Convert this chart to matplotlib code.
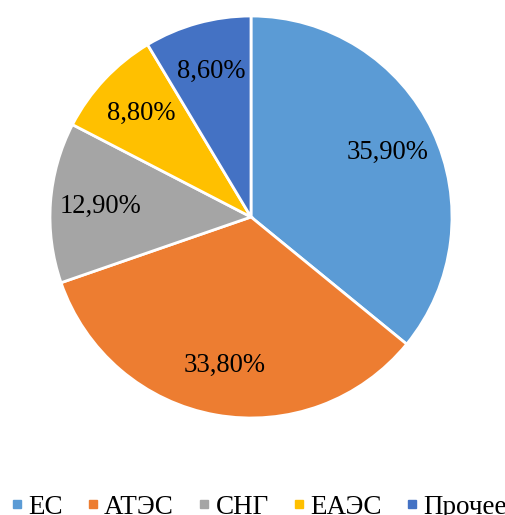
import matplotlib.pyplot as plt
from matplotlib.lines import Line2D

# regions and shares, %
regions = ['ЕС', 'АТЭС', 'СНГ', 'ЕАЭС', 'Прочее']
shares = [35.9, 33.8, 12.9, 8.8, 8.6]
colors = ['#5B9BD5', '#ED7D31', '#A5A5A5', '#FFC000', '#4472C4']

plt.rcParams['font.family'] = ['Liberation Serif', 'DejaVu Serif']

fig = plt.figure(figsize=(5.05, 5.15), dpi=100)
# pie centre ~ (251, 216) px, radius ~ 201 px
ax = fig.add_axes([50/505, 97/515, 402/505, 402/515])

def fmt(p):
    return ('%.2f' % p).replace('.', ',') + '%'

ax.pie(shares, colors=colors, startangle=90, counterclock=False,
       autopct=fmt, pctdistance=0.75, radius=1,
       wedgeprops=dict(edgecolor='white', linewidth=2),
       textprops=dict(fontsize=19.2, color='black'))
ax.set_xlim(-1, 1)
ax.set_ylim(-1, 1)
ax.set_aspect('equal')
ax.axis('off')

handles = [Line2D([0], [0], marker='s', linestyle='none', markersize=5.5,
                  markerfacecolor=c, markeredgecolor=c) for c in colors]
fig.legend(handles, regions, loc='center left', bbox_to_anchor=(-6/505, 8/515),
           ncol=5, frameon=False, fontsize=19.5, handlelength=0.3,
           handletextpad=0.26, columnspacing=0.97, borderpad=0.2)

fig.savefig('out.png', dpi=100)
